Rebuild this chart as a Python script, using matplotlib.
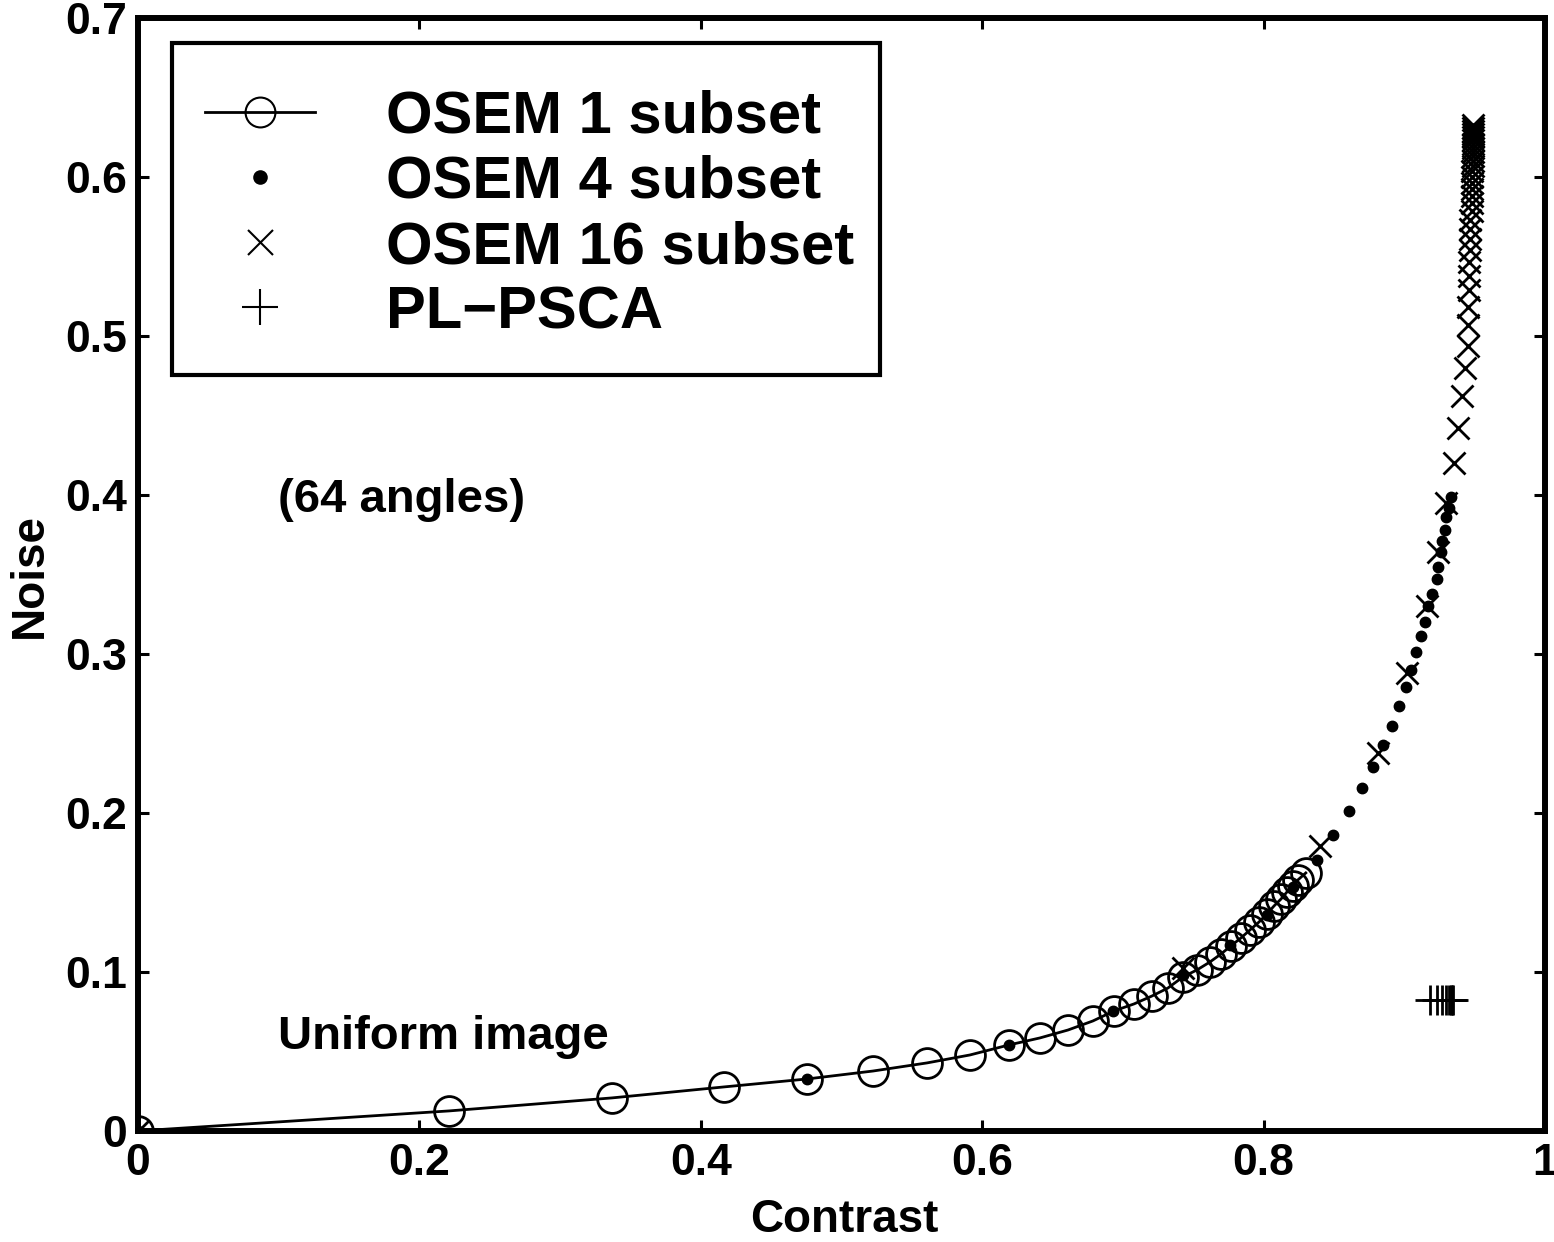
import matplotlib
matplotlib.use("Agg")
import matplotlib.pyplot as plt
from matplotlib.patches import Rectangle

# ---------------- data ----------------
osem1_x = [0.0, 0.221, 0.337, 0.4165, 0.4755, 0.5224, 0.5608, 0.5913, 0.619, 0.641,
           0.661, 0.6787, 0.6937, 0.7079, 0.7207, 0.732, 0.7427, 0.7527, 0.7619, 0.7697,
           0.7768, 0.7839, 0.7903, 0.7967, 0.8024, 0.8074, 0.8124, 0.8166, 0.8209, 0.8244,
           0.830]
osem1_y = [0.0, 0.0126, 0.0208, 0.0277, 0.0327, 0.0377, 0.0428, 0.0478, 0.0541, 0.0585,
           0.0635, 0.0692, 0.0755, 0.0799, 0.0849, 0.0899, 0.0969, 0.1013, 0.1063, 0.1113,
           0.1164, 0.1214, 0.1264, 0.1314, 0.1365, 0.1415, 0.1459, 0.1503, 0.1541, 0.1579,
           0.1623]

osem4_x = [0.0, 0.4755, 0.619, 0.693, 0.7427, 0.776, 0.8024, 0.8209, 0.838,
           0.849, 0.861, 0.870, 0.878, 0.885, 0.891, 0.896, 0.901, 0.905, 0.908,
           0.912, 0.915, 0.917, 0.920, 0.923, 0.924, 0.926, 0.927, 0.929, 0.930,
           0.932, 0.933]
osem4_y = [0.0, 0.0327, 0.0541, 0.0755, 0.0981, 0.117, 0.1358, 0.1535, 0.1704,
           0.186, 0.201, 0.216, 0.229, 0.243, 0.255, 0.267, 0.279, 0.290, 0.301,
           0.311, 0.320, 0.330, 0.338, 0.347, 0.355, 0.364, 0.371, 0.378, 0.386,
           0.392, 0.399]

osem16_x = [0.0, 0.743, 0.840, 0.881, 0.902, 0.916, 0.924, 0.930, 0.935, 0.938,
            0.941, 0.943, 0.945, 0.945, 0.945, 0.946, 0.946, 0.946, 0.947, 0.947,
            0.947, 0.947, 0.948, 0.948, 0.948, 0.948, 0.948, 0.948, 0.948, 0.949,
            0.949, 0.949, 0.949, 0.949, 0.949, 0.949, 0.949, 0.949, 0.949, 0.949,
            0.949]
osem16_y = [0.0, 0.1025, 0.179, 0.238, 0.288, 0.330, 0.364, 0.395, 0.420, 0.442,
            0.462, 0.480, 0.494, 0.507, 0.518, 0.529, 0.538, 0.5465, 0.554, 0.561,
            0.567, 0.573, 0.5786, 0.5836, 0.588, 0.5925, 0.5962, 0.600, 0.6038, 0.6069,
            0.610, 0.6132, 0.6157, 0.6182, 0.6208, 0.6233, 0.6252, 0.627, 0.629, 0.6308,
            0.6327]

plpsca_x = [0.918, 0.923, 0.927, 0.930, 0.932, 0.933, 0.934, 0.9345]
plpsca_y = [0.0824, 0.0824, 0.0824, 0.0824, 0.0824, 0.0824, 0.0824, 0.0824]

series_labels = ["OSEM 1 subset", "OSEM 4 subset", "OSEM 16 subset", "PL\u2212PSCA"]
x_ticks = [0, 0.2, 0.4, 0.6, 0.8, 1]
x_ticklabels = ["0", "0.2", "0.4", "0.6", "0.8", "1"]
y_ticks = [0, 0.1, 0.2, 0.3, 0.4, 0.5, 0.6, 0.7]
y_ticklabels = ["0", "0.1", "0.2", "0.3", "0.4", "0.5", "0.6", "0.7"]
annotations = [("(64 angles)", 0.0995, 0.397), ("Uniform image", 0.0995, 0.059)]

# ---------------- plot ----------------
plt.rcParams['font.family'] = ['Liberation Sans', 'DejaVu Sans']
plt.rcParams['font.weight'] = 'bold'

fig = plt.figure(figsize=(15.54, 12.42), dpi=100)
ax = fig.add_axes([0.0888, 0.0894, 0.9054, 0.8961])

ax.plot(osem1_x, osem1_y, color='k', lw=2.0, marker='o', markersize=21.5,
        markerfacecolor='none', markeredgecolor='k', markeredgewidth=2.0,
        label=series_labels[0], zorder=3)
ax.plot(osem4_x, osem4_y, linestyle='none', marker='o', markersize=7.5,
        color='k', label=series_labels[1], zorder=4)
ax.plot(osem16_x, osem16_y, linestyle='none', marker='x', markersize=16.5,
        markeredgewidth=2.0, color='k', label=series_labels[2], zorder=4)
ax.plot(plpsca_x, plpsca_y, linestyle='none', marker='+', markersize=22,
        markeredgewidth=2.0, color='k', label=series_labels[3], zorder=4)

ax.set_xlim(0, 1)
ax.set_ylim(0, 0.7)
ax.set_xticks(x_ticks)
ax.set_xticklabels(x_ticklabels)
ax.set_yticks(y_ticks)
ax.set_yticklabels(y_ticklabels)
ax.tick_params(axis='both', which='both', direction='in', length=8, width=2.2,
               top=True, right=True, labelsize=32)
ax.tick_params(axis='x', pad=9)
ax.tick_params(axis='y', pad=8)
for lab in ax.get_xticklabels() + ax.get_yticklabels():
    lab.set_fontweight('bold')
for sp in ax.spines.values():
    sp.set_linewidth(4.3)

ax.set_xlabel("Contrast", fontsize=33, fontweight='bold')
ax.set_ylabel("Noise", fontsize=33, fontweight='bold')
ax.xaxis.set_label_coords(0.502, -0.060)
ax.yaxis.set_label_coords(-0.0615, 0.4995)

for txt, tx, ty in annotations:
    ax.text(tx, ty, txt, fontsize=34, fontweight='bold', ha='left', va='center')

# legend box (frame drawn separately to match the reference proportions)
legend_box = Rectangle((0.0242, 0.679), 0.5032, 0.2983, transform=ax.transAxes,
                       facecolor='white', edgecolor='k', linewidth=3.0, zorder=5)
ax.add_patch(legend_box)

leg = ax.legend(loc='upper left', bbox_to_anchor=(0.0242, 0.965),
                prop={'size': 43, 'weight': 'bold'}, frameon=False,
                handlelength=1.84, handletextpad=1.2, labelspacing=0.17,
                borderpad=0.55, borderaxespad=0.0, numpoints=1)
leg.set_zorder(6)
for h in leg.legend_handles:
    h.set_markeredgewidth(1.5)
leg.legend_handles[1].set_markersize(9)
leg.legend_handles[2].set_markersize(18)
leg.legend_handles[3].set_markersize(26)

fig.savefig("out.png", dpi=100, facecolor='white')
